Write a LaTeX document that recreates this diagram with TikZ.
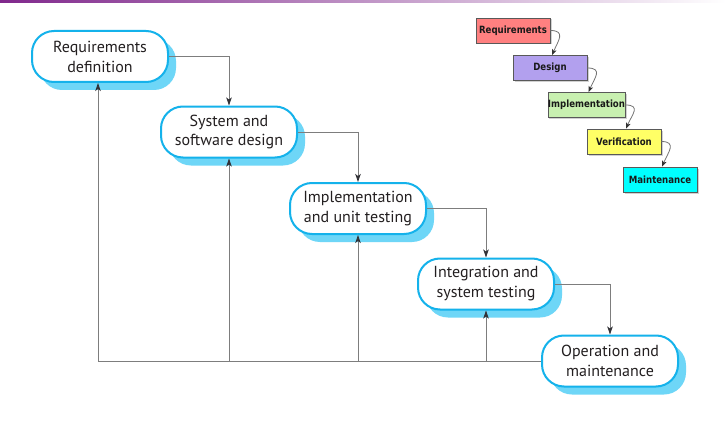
\documentclass[tikz,border=0pt]{standalone}
\usepackage{fontspec}
\setmainfont{PT Sans}
\newfontfamily\minifont[FakeStretch=0.86]{DejaVu Sans}
\usetikzlibrary{arrows.meta,shadows}
\definecolor{boxcyan}{RGB}{20,178,235}
\definecolor{shadecyan}{RGB}{110,214,247}
\definecolor{linegray}{RGB}{125,125,125}
\definecolor{tipgray}{RGB}{50,50,55}
\definecolor{textdark}{RGB}{35,31,32}
\definecolor{topline}{RGB}{128,40,140}
\definecolor{minired}{RGB}{255,128,128}
\definecolor{minililac}{RGB}{178,160,238}
\definecolor{minigreen}{RGB}{200,240,176}
\definecolor{miniyellow}{RGB}{255,255,102}
\definecolor{minicyan}{RGB}{0,255,255}

\begin{document}
\begin{tikzpicture}[x=1pt,y=-1pt,
    phase/.style={draw=boxcyan,line width=2pt,fill=white,rounded corners=22pt,
      minimum width=136pt,minimum height=51pt,align=center,text=textdark,
      font=\fontsize{16}{20}\selectfont,
      general shadow={fill=shadecyan,shadow xshift=8pt,shadow yshift=-8pt}},
    flow/.style={draw=linegray,line width=0.9pt,
      -{Stealth[length=8pt,width=5.5pt,inset=2pt,color=tipgray]}},
    feed/.style={draw=linegray,line width=0.9pt},
    mini/.style={draw=black!65,line width=0.7pt,minimum width=74pt,minimum height=25pt,
      inner sep=0pt,text=black!90,font=\minifont\bfseries\fontsize{10}{12}\selectfont,
      general shadow={fill=black!18,shadow xshift=1.5pt,shadow yshift=-1.5pt}},
    curl/.style={draw=black!55,line width=0.8pt,
      -{Stealth[length=6pt,width=4.5pt,inset=1.5pt,color=black!80]}}]
  \useasboundingbox (0,0) rectangle (726,428);
  \fill[white] (0,0) rectangle (726,428);
  \shade[left color=topline,right color=white] (0,0) rectangle (726,2.5);

  % main phases
  \node[phase] (req) at (100,56.5) {Requirements\\definition};
  \node[phase] (sys) at (229,132) {System and\\software design};
  \node[phase] (imp) at (358,208.5) {Implementation\\and unit testing};
  \node[phase] (integ) at (486,284) {Integration and\\system testing};
  \node[phase] (oper) at (610,361) {Operation and\\maintenance};

  \draw[flow] (req.east) -| (sys.north);
  \draw[flow] (sys.east) -| (imp.north);
  \draw[flow] (imp.east) -| (integ.north);
  \draw[flow] (integ.east) -| (oper.north);

  % feedback along the bottom
  \coordinate (back) at ([xshift=-2pt]req.south |- oper.west);
  \draw[feed] (oper.west) -- (back);
  \draw[flow] (back) -- ([xshift=-2pt]req.south);
  \draw[flow] (sys.south |- back) -- (sys.south);
  \draw[flow] (imp.south |- back) -- (imp.south);
  \draw[flow] (integ.south |- back) -- (integ.south);

  % small waterfall
  \node[mini,fill=minired] (mreq) at (513,30.5) {Requirements};
  \node[mini,fill=minililac] (mdes) at (550,68) {Design};
  \node[mini,fill=minigreen] (mimp) at (586.5,105) {Implementation};
  \node[mini,fill=miniyellow] (mver) at (624,141.5) {Verification};
  \node[mini,fill=minicyan] (mmai) at (660,179.5) {Maintenance};

  \draw[curl] (mreq.east) .. controls +(16,0) and +(6,-14) .. ([xshift=2pt]mdes.north);
  \draw[curl] (mdes.east) .. controls +(16,0) and +(6,-14) .. ([xshift=2pt]mimp.north);
  \draw[curl] (mimp.east) .. controls +(16,0) and +(6,-14) .. ([xshift=2pt]mver.north);
  \draw[curl] (mver.east) .. controls +(16,0) and +(6,-14) .. ([xshift=2pt]mmai.north);
\end{tikzpicture}
\end{document}
